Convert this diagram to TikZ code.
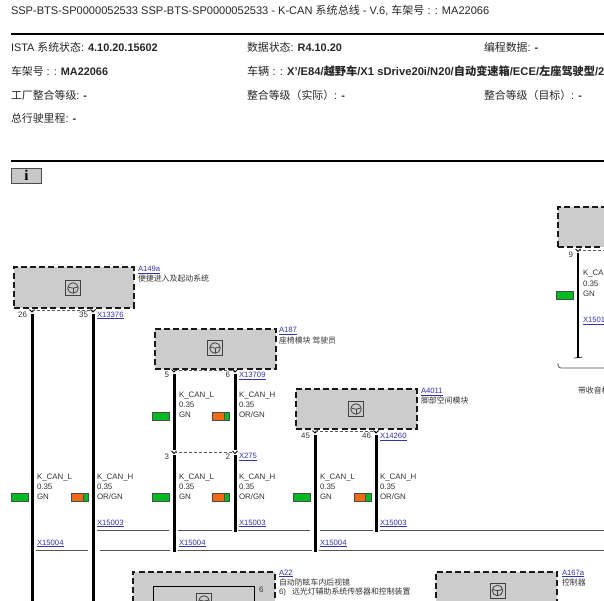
\documentclass[tikz,border=0pt]{standalone}
\usepackage{fontspec}
\setmainfont{Liberation Sans}
\newfontfamily\cjk{Noto Sans CJK SC}
\newfontfamily\serifbold{Liberation Serif}
\usetikzlibrary{positioning}

\definecolor{boxgray}{HTML}{CCCCCC}
\definecolor{linkblue}{HTML}{3333AA}
\definecolor{gngreen}{HTML}{00BB22}
\definecolor{ororange}{HTML}{F06A14}
\definecolor{busgray}{HTML}{555555}

\newcommand{\cn}[1]{{\cjk #1}}

\begin{document}
\begin{tikzpicture} [
    x=1pt,
    y=-1pt,
    inner sep=0pt,
    outer sep=0pt,
  ]

  \tikzstyle{hdr} = [
    anchor=west,
    font=\fontsize{10.9}{12}\selectfont,
    text=black!85,
  ]
  \tikzstyle{rulebar} = [
    line width=2pt,
  ]
  \tikzstyle{ctrl} = [
    draw=black!90,
    fill=boxgray,
    dash pattern=on 6pt off 3.2pt,
    line width=2pt,
    anchor=north west,
  ]
  \tikzstyle{sym} = [
    draw=black!75,
    line width=0.9pt,
    minimum size=15pt,
  ]
  \tikzstyle{wire} = [
    line width=3pt,
    black,
  ]
  \tikzstyle{tiny} = [
    anchor=west,
    font=\fontsize{7.9}{9}\selectfont,
    text=black!80,
  ]
  \tikzstyle{stack} = [
    tiny,
    text height=6pt,
    text depth=2pt,
  ]
  \tikzstyle{reflink} = [
    tiny,
    yshift=-1pt,
    text=linkblue,
    font=\fontsize{7.7}{9}\selectfont,
  ]
  \tikzstyle{pinlabel} = [
    tiny,
    anchor=east,
  ]
  \tikzstyle{swgn} = [
    draw=black!70,
    fill=gngreen,
    line width=0.6pt,
    minimum width=17pt,
    minimum height=8pt,
  ]
  \tikzstyle{swor} = [
    swgn,
    fill=ororange,
    path picture={\fill[gngreen] ([xshift=-5.5pt]path picture bounding box.north east) rectangle (path picture bounding box.south east);
      \draw[black!70,line width=0.6pt] ([xshift=-5.5pt]path picture bounding box.north east) -- ([xshift=-5.5pt]path picture bounding box.south east);},
  ]
  \tikzstyle{bus} = [
    draw=busgray,
    line width=0.8pt,
  ]
  \tikzstyle{sep} = [
    draw=black!65,
    densely dashed,
    line width=0.6pt,
  ]
  \tikzstyle{joint} = [
    fill=black,
    minimum size=3pt,
  ]
  \tikzstyle{fork} = [
    draw=black,
    line width=0.9pt,
  ]

  \clip (0,0) rectangle (604,601);

  % header
  \node[hdr,font=\fontsize{11.05}{12}\selectfont] (title) at (11,11) {SSP-BTS-SP0000052533 SSP-BTS-SP0000052533 - K-CAN \cn{系统总线} - V.6, \cn{车架号} : : MA22066};
  \coordinate (t1a) at (11,34.5);
  \coordinate (t1b) at (604,34.5);
  \coordinate (t2a) at (11,161.5);
  \coordinate (t2b) at (604,161.5);
  \draw[rulebar] (t1a) -- (t1b);
  \draw[rulebar] (t2a) -- (t2b);

  \node[hdr] (ista)  at (11,47)  {ISTA \cn{系统状态}: \textbf{4.10.20.15602}};
  \node[hdr] (data)  at (247,47) {\cn{数据状态}: \textbf{R4.10.20}};
  \node[hdr] (prog)  at (484,47) {\cn{编程数据}: \textbf{-}};
  \node[hdr] (vin)   at (11,71)  {\cn{车架号} : : \textbf{MA22066}};
  \node[hdr,font=\fontsize{11.2}{12}\selectfont] (car) at (247,71) {\cn{车辆} : : \textbf{X'/E84/{\cjk\bfseries 越野车}/X1 sDrive20i/N20/{\cjk\bfseries 自动变速箱}/ECE/{\cjk\bfseries 左座驾驶型}/20}};
  \node[hdr] (fact)  at (11,95)  {\cn{工厂整合等级}: \textbf{-}};
  \node[hdr] (act)   at (247,95) {\cn{整合等级（实际）}: \textbf{-}};
  \node[hdr] (tgt)   at (484,95) {\cn{整合等级（目标）}: \textbf{-}};
  \node[hdr] (km)    at (11,118) {\cn{总行驶里程}: \textbf{-}};

  \node[draw=black!70,fill=black!22,line width=0.7pt,minimum width=30pt,minimum height=15pt,anchor=north west,
        font=\serifbold\bfseries\fontsize{15}{15}\selectfont] (ibtn) at (11.5,168) {i};

  % control units
  \node[ctrl,minimum width=120pt,minimum height=40pt] (a149) at (13.5,267.5) {};
  \node[ctrl,minimum width=121pt,minimum height=40pt] (a187) at (154.5,328.5) {};
  \node[ctrl,minimum width=121pt,minimum height=40pt] (a4011) at (295.5,389) {};
  \node[ctrl,minimum width=60pt,minimum height=40pt] (top) at (557.5,207.5) {};
  \node[ctrl,minimum width=142pt,minimum height=50pt] (a22) at (132.5,571.5) {};
  \node[ctrl,minimum width=121pt,minimum height=50pt] (a167) at (436,571.5) {};
  \node[draw=black,line width=1pt,anchor=north west,minimum width=101pt,minimum height=30pt] (a22in) at (153,586) {};

  \node[sym] (s149)  at (73,288) {};
  \node[sym] (s187)  at (215,348) {};
  \node[sym] (s4011) at (356,409) {};
  \node[sym] (s22)   at (204,601) {};
  \node[sym] (s167)  at (497.5,590.5) {};
  \foreach \s in {s149,s187,s4011,s22,s167} {
    \draw[black!75,line width=0.8pt] (\s) circle (5.3pt);
    \draw[black!75,line width=0.8pt] ([xshift=-5pt,yshift=1.2pt]\s.center) to[bend right=25] ([xshift=5pt,yshift=1.2pt]\s.center);
    \draw[black!75,line width=0.8pt] ([yshift=0pt]\s.center) -- ([yshift=-5pt]\s.center);
  }

  \node[reflink] (l149) at (138,269) {\underline{A149a}};
  \node[tiny]    (d149) at (138,278.5) {\cn{便捷进入及起动系统}};
  \node[reflink] (l187) at (279,330) {\underline{A187}};
  \node[tiny]    (d187) at (279,340) {\cn{座椅模块 驾驶员}};
  \node[reflink] (l4011) at (421,391) {\underline{A4011}};
  \node[tiny]    (d4011) at (421,400) {\cn{脚部空间模块}};
  \node[reflink] (l22) at (279,572.5) {\underline{A22}};
  \node[tiny]    (d22) at (279,582.5) {\cn{自动防眩车内后视镜}};
  \node[tiny]    (e22) at (279,592) {6)\hspace{6pt}\cn{远光灯辅助系统传感器和控制装置}};
  \node[tiny]    (p22) at (259,589.5) {6};
  \node[reflink] (l167) at (562,572.5) {\underline{A167a}};
  \node[tiny]    (d167) at (562,582.5) {\cn{控制器}};

  % pins
  \foreach \n/\x/\y in {p26/32/312, p35/93/312, p5/174/372, p6/235/372, p3/174/453.5, p2/235/453.5, p45/315/433, p46/376/433, p9/578/251.5} {
    \coordinate (\n) at (\x,\y);
    \draw[fork] ([xshift=-2.5pt,yshift=2.5pt]\n) -- (\n) -- ([xshift=2.5pt,yshift=2.5pt]\n);
  }
  \foreach \n/\t in {p26/26, p35/35, p5/5, p6/6, p3/3, p2/2, p45/45, p46/46, p9/9} {
    \node[pinlabel] at ([xshift=-5pt,yshift=-3pt]\n) {\t};
  }
  \draw[sep] ([yshift=1.5pt]p26) -- ([yshift=1.5pt]p35);
  \draw[sep] ([yshift=1.5pt]p5) -- ([yshift=1.5pt]p6);
  \draw[sep] ([yshift=1.5pt]p3) -- ([yshift=1.5pt]p2);
  \draw[sep] ([yshift=1.5pt]p45) -- ([yshift=1.5pt]p46);
  \coordinate (edgeR) at (604,250);
  \draw[sep] ([yshift=1.5pt]p9) -- (edgeR);

  \node[reflink] (x13376) at (97,314.5)  {\underline{X13376}};
  \node[reflink] (x13709) at (239,375) {\underline{X13709}};
  \node[reflink] (x275)   at (239,456) {\underline{X275}};
  \node[reflink] (x14260) at (380,436) {\underline{X14260}};

  % bus joints
  \node[joint] (j93)  at (93,530)  {};
  \node[joint] (j235) at (235,530) {};
  \node[joint] (j376) at (376,530) {};
  \node[joint] (j32)  at (32,550)  {};
  \node[joint] (j174) at (174,550) {};
  \node[joint] (j315) at (315,550) {};
  \node[joint,minimum size=2.4pt] (j578) at (578,328) {};

  \coordinate (e32)  at (32,601);
  \coordinate (e93)  at (93,601);
  \coordinate (e578) at (578,358);
  \draw[wire] ([yshift=-1.5pt]p26) -- ([yshift=3.5pt]j32);
  \draw[wire] ([yshift=-3.5pt]j32) -- (e32);
  \draw[wire] ([yshift=-1.5pt]p35) -- ([yshift=3.5pt]j93);
  \draw[wire] ([yshift=-3.5pt]j93) -- (e93);
  \draw[wire] ([yshift=-1.5pt]p5) -- ([yshift=3.5pt]p3);
  \draw[wire] ([yshift=-1.5pt]p6) -- ([yshift=3.5pt]p2);
  \draw[wire] ([yshift=-1.5pt]p3) -- ([yshift=3.5pt]j174);
  \draw[wire] ([yshift=-1.5pt]p2) -- ([yshift=3.5pt]j235);
  \draw[wire] ([yshift=-1.5pt]p45) -- ([yshift=3.5pt]j315);
  \draw[wire] ([yshift=-1.5pt]p46) -- ([yshift=3.5pt]j376);
  \draw[wire,line width=2.3pt] ([yshift=-1.5pt]p9) -- ([yshift=3.5pt]j578);
  \draw[wire,line width=2.3pt] ([yshift=-3.5pt]j578) -- (e578);
  \draw[fork,line width=0.6pt] ([xshift=-4pt]e578) -- ([xshift=4pt,yshift=0.8pt]e578);

  % wire data
  \foreach \n/\x/\y/\c/\s in {wa/37/477/L/GN, wb/97/477/H/OR\slash GN, wc/179/395.5/L/GN, wd/239/395.5/H/OR\slash GN,
      we/179/477/L/GN, wf/239/477/H/OR\slash GN, wg/320/477/L/GN, wh/380/477/H/OR\slash GN, wi/583/274/L/GN} {
    \node[stack] (\n) at (\x,\y) {K\_CAN\_\c};
    \node[stack,below=2.2pt of \n.south west,anchor=north west] (\n v) {0.35};
    \node[stack,below=2.2pt of \n v.south west,anchor=north west] (\n c) {\s};
  }
  \node[swgn] (ga) at (19.5,497)  {};
  \node[swor] (oa) at (80,497)    {};
  \node[swgn] (gb) at (161,497)   {};
  \node[swor] (ob) at (221,497)   {};
  \node[swgn] (gc) at (302,497)   {};
  \node[swor] (oc) at (362.5,497) {};
  \node[swgn] (gd) at (161,416)   {};
  \node[swor] (od) at (221,416)   {};
  \node[swgn] (ge) at (565,295)   {};

  \node[reflink] (xa) at (37,542.5)  {\underline{X15004}};
  \node[reflink] (xb) at (97,522.5)  {\underline{X15003}};
  \node[reflink] (xc) at (179,542.5) {\underline{X15004}};
  \node[reflink] (xd) at (239,522.5) {\underline{X15003}};
  \node[reflink] (xe) at (320,542.5) {\underline{X15004}};
  \node[reflink] (xf) at (380,522.5) {\underline{X15003}};
  \node[reflink] (xg) at (583,320) {\underline{X1501}};

  % bus lines
  \foreach \a/\b in {97/169, 178/232, 238/310, 320/373, 380/604} {
    \coordinate (ba) at (\a,530);
    \coordinate (bb) at (\b,530);
    \draw[bus] (ba) -- (bb);
  }
  \foreach \a/\b in {36/88, 100/170, 178/312, 319/604} {
    \coordinate (ca) at (\a,550);
    \coordinate (cb) at (\b,550);
    \draw[bus] (ca) -- (cb);
  }

  % bracket at right
  \coordinate (bk1) at (558,363);
  \coordinate (bk2) at (604,368);
  \draw[black!70,line width=0.7pt,rounded corners=3pt] (bk1) |- (bk2);
  \node[tiny] (radio) at (578,390.5) {\cn{带收音机}};

\end{tikzpicture}
\end{document}
